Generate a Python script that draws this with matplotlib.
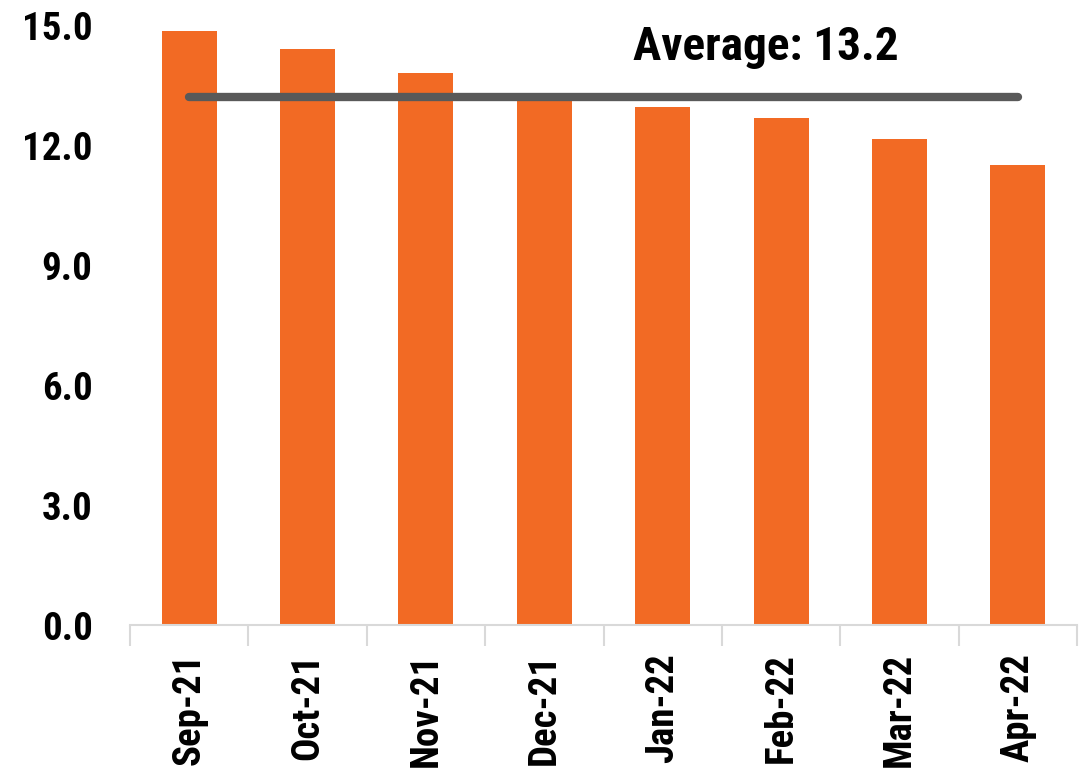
import matplotlib
matplotlib.use("Agg")
import matplotlib.pyplot as plt
from matplotlib import font_manager
from matplotlib.ticker import FixedLocator, NullFormatter

# Monthly readings
months = ["Sep-21", "Oct-21", "Nov-21", "Dec-21", "Jan-22", "Feb-22", "Mar-22", "Apr-22"]
values = [14.85, 14.4, 13.8, 13.2, 12.94, 12.68, 12.15, 11.5]
y_ticks = [0.0, 3.0, 6.0, 9.0, 12.0, 15.0]

average = sum(values) / len(values)

# Prefer a bold condensed face when one is available
available = {f.name for f in font_manager.fontManager.ttflist}
family = "DejaVu Sans"
for cand in ["Liberation Sans Narrow", "Roboto Condensed", "DejaVu Sans Condensed",
             "Liberation Sans", "Roboto"]:
    if cand in available:
        family = cand
        break
plt.rcParams["font.family"] = [family, "DejaVu Sans"]
plt.rcParams["font.weight"] = "bold"

bar_color = "#F26A24"
line_color = "#595959"
axis_color = "#D9D9D9"

fig = plt.figure(figsize=(10.89, 7.74), dpi=100)
ax = fig.add_axes([0.1194, 0.1925, 0.8696, 0.7752])

x = list(range(len(months)))
ax.bar(x, values, width=0.465, color=bar_color, zorder=2)

ax.plot([x[0], x[-1]], [average, average], color=line_color, linewidth=6,
        solid_capstyle="round", zorder=3)
ax.text(4.87, 14.45, f"Average: {average:.1f}",
        ha="center", va="center", fontsize=34, fontweight="bold", color="black")

ax.set_xlim(-0.5, len(months) - 0.5)
ax.set_ylim(0, 15)

# Category boundary ticks on the x axis, labels at the centres
ax.xaxis.set_major_locator(FixedLocator([i - 0.5 for i in range(len(months) + 1)]))
ax.xaxis.set_major_formatter(NullFormatter())
ax.xaxis.set_minor_locator(FixedLocator(x))
ax.set_xticklabels(months, minor=True, rotation=90, fontsize=28, fontweight="bold")
ax.tick_params(axis="x", which="major", length=15, width=1.5, color=axis_color, direction="out")
ax.tick_params(axis="x", which="minor", length=0, pad=20)

ax.set_yticks(y_ticks)
ax.set_yticklabels([f"{v:.1f}" for v in y_ticks], fontsize=28, fontweight="bold")
ax.tick_params(axis="y", length=0, pad=27)

for side in ["left", "right", "top"]:
    ax.spines[side].set_visible(False)
ax.spines["bottom"].set_color(axis_color)
ax.spines["bottom"].set_linewidth(1.5)

fig.savefig("out.png", dpi=100)
